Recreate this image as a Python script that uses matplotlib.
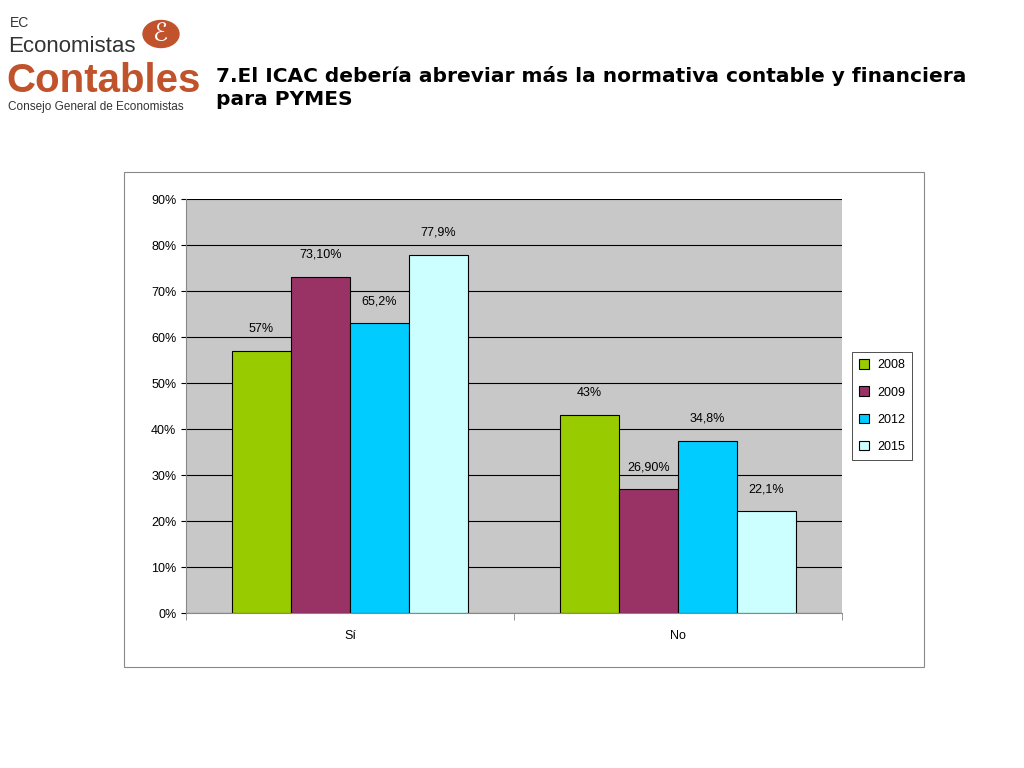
import matplotlib
matplotlib.use("Agg")
import matplotlib.pyplot as plt
import numpy as np
from matplotlib.patches import Rectangle, Circle

categories = ["Sí", "No"]
years = ["2008", "2009", "2012", "2015"]
values = {
    "2008": [57.0, 43.0],
    "2009": [73.1, 26.9],
    "2012": [63.0, 37.4],
    "2015": [77.9, 22.1],
}
labels = {
    "2008": ["57%", "43%"],
    "2009": ["73,10%", "26,90%"],
    "2012": ["65,2%", "34,8%"],
    "2015": ["77,9%", "22,1%"],
}
colors = ["#99cc00", "#993366", "#00ccff", "#ccffff"]
yticks = [0, 10, 20, 30, 40, 50, 60, 70, 80, 90]

fig = plt.figure(figsize=(10.24, 7.68), dpi=100)
fig.patches.append(Rectangle((124/1024, 1-667/768), 800/1024, 495/768, transform=fig.transFigure,
                             fill=False, edgecolor="#888888", lw=0.8))
ax = fig.add_axes([186/1024, 1-613/768, 656/1024, 414/768])
ax.set_facecolor("#c8c8c8")
x = np.arange(len(categories))
w = 0.18
for i, y in enumerate(years):
    xs = x + (i - 1.5) * w
    ax.bar(xs, values[y], w, color=colors[i], edgecolor="black", lw=0.8, label=y)
    for xx, v, t in zip(xs, values[y], labels[y]):
        ax.text(xx, v + 3.5, t, ha="center", va="bottom", fontsize=9, family="Liberation Sans")
ax.set_xlim(-0.5, 1.5)
ax.set_ylim(0, 90)
ax.set_yticks(yticks)
ax.set_yticklabels([f"{t}%" for t in yticks], fontsize=9, family="Liberation Sans")
ax.yaxis.grid(True, color="black", lw=0.8)
ax.set_axisbelow(True)
ax.set_xticks(x)
ax.set_xticklabels(categories, fontsize=9, family="Liberation Sans")
ax.tick_params(axis="x", length=0, pad=12)
ax.set_xticks([-0.5, 0.5, 1.5], minor=True)
ax.tick_params(axis="x", which="minor", length=5, color="#888888")
for s in ["top", "right"]:
    ax.spines[s].set_visible(False)
ax.spines["left"].set_color("#888888")
ax.spines["bottom"].set_color("#888888")
leg = ax.legend(loc="center left", bbox_to_anchor=(1.015, 0.5), frameon=True, fancybox=False,
                edgecolor="black", prop={"family": "Liberation Sans", "size": 9},
                handlelength=0.8, handleheight=0.8, labelspacing=1.2, borderpad=0.6,
                handletextpad=0.6, borderaxespad=0)
leg.get_frame().set_linewidth(0.6)

fig.text(10/1024, 1-27/768, "EC", fontsize=10, color="#333333", family="Liberation Sans")
fig.text(8/1024, 1-52/768, "Economistas", fontsize=16, color="#333333", family="Liberation Sans")
fig.text(6/1024, 1-92/768, "Contables", fontsize=29, color="#c0532b", fontweight="bold",
         family="Liberation Sans", stretch="condensed")
fig.text(8/1024, 1-110/768, "Consejo General de Economistas", fontsize=8.5, color="#333333", family="Liberation Sans")
fig.patches.append(Circle((161/1024, 1-34/768), 18/1024, transform=fig.transFigure, color="#c0532b"))
fig.text(161/1024, 1-34/768, "ℰ", fontsize=18, color="white", ha="center", va="center")
fig.text(216/1024, 1-105/768, "7.El ICAC debería abreviar más la normativa contable y financiera\npara PYMES",
         fontsize=14.5, fontweight="bold", family="DejaVu Sans", linespacing=1.25)
fig.savefig("out.png", dpi=100)
